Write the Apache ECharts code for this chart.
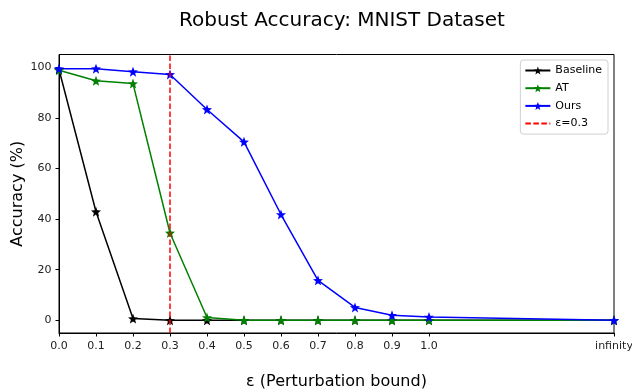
<!DOCTYPE html>
<html>
<head>
<meta charset="utf-8">
<script src="https://cdn.jsdelivr.net/npm/echarts@6/dist/echarts.min.js"></script>
<style>
  html, body { margin: 0; padding: 0; background: #fff; }
  #chart { width: 632px; height: 389px; }
</style>
</head>
<body>
<div id="chart"></div>
<script>
// perturbation bound; "infinity" is drawn at 1.5
const epsValues = [0.0, 0.1, 0.2, 0.3, 0.4, 0.5, 0.6, 0.7, 0.8, 0.9, 1.0, 1.5];
const baseline = [99.1, 42.9, 0.7, 0.0, 0.0, 0.0, 0.0, 0.0, 0.0, 0.0, 0.0, 0.0];
const at = [98.8, 94.6, 93.5, 34.5, 1.1, 0.0, 0.0, 0.0, 0.0, 0.0, 0.0, 0.0];
const ours = [99.4, 99.4, 98.2, 97.1, 83.3, 70.5, 41.8, 15.8, 5.1, 2.0, 1.3, 0.0];

const xTickValues = [0.0, 0.1, 0.2, 0.3, 0.4, 0.5, 0.6, 0.7, 0.8, 0.9, 1.0, 1.5];
const xTickLabels = ['0.0', '0.1', '0.2', '0.3', '0.4', '0.5', '0.6', '0.7', '0.8', '0.9', '1.0', 'infinity'];
const yTickValues = [0, 20, 40, 60, 80, 100];
const epsLine = 0.3;

const font = 'DejaVu Sans';
const star = 'path://M12,1 L14.9,8.6 L23,9 L16.7,14.1 L18.8,22 L12,17.5 L5.2,22 L7.3,14.1 L1,9 L9.1,8.6 Z';

function pairs(ys) {
    return epsValues.map((x, i) => [x, ys[i]]);
}

function lineSeries(name, ys, color) {
    return {
        name: name,
        type: 'line',
        data: pairs(ys),
        symbol: star,
        symbolSize: 10,
        showSymbol: true,
        lineStyle: { color: color, width: 1.5 },
        itemStyle: { color: color },
        emphasis: { disabled: true }
    };
}

const myChart = echarts.init(document.getElementById('chart'), null, { renderer: 'canvas' });

const option = {
    animation: false,
    textStyle: { fontFamily: font },
    title: {
        text: 'Robust Accuracy: MNIST Dataset',
        left: 337,
        textAlign: 'center',
        top: 6,
        textStyle: { fontFamily: font, fontSize: 20, fontWeight: 'normal', color: '#000' }
    },
    legend: {
        orient: 'vertical',
        right: 24,
        top: 60,
        padding: [5, 6, 5, 4],
        itemWidth: 25,
        itemHeight: 10,
        itemGap: 6.7,
        borderColor: '#d0d0d0',
        borderWidth: 1,
        borderRadius: 3,
        backgroundColor: '#fff',
        textStyle: { fontFamily: font, fontSize: 11, color: '#000' },
        data: ['Baseline', 'AT', 'Ours', { name: 'ε=0.3', itemStyle: { opacity: 0 } }]
    },
    grid: {
        left: 59,
        right: 18,
        top: 54.5,
        bottom: 56,
        show: true,
        borderColor: '#000',
        borderWidth: 1,
        containLabel: false,
        outerBoundsMode: 'none'
    },
    xAxis: {
        type: 'value',
        min: 0,
        max: 1.5,
        name: 'ε (Perturbation bound)',
        nameLocation: 'middle',
        nameGap: 41,
        nameMoveOverlap: false,
        nameTextStyle: { fontFamily: font, fontSize: 16, color: '#000' },
        axisLine: { show: true, onZero: false, lineStyle: { color: '#000', width: 1 } },
        axisTick: {
            show: true, length: 3.5, lineStyle: { color: '#000' },
            customValues: xTickValues
        },
        axisLabel: {
            customValues: xTickValues,
            margin: 7.5,
            fontFamily: font, fontSize: 11, color: '#222',
            formatter: v => {
                const i = xTickValues.findIndex(t => Math.abs(t - v) < 1e-6);
                return i >= 0 ? xTickLabels[i] : '';
            }
        },
        splitLine: { show: false }
    },
    yAxis: {
        type: 'value',
        min: -5,
        max: 105,
        name: 'Accuracy (%)',
        nameLocation: 'middle',
        nameGap: 33,
        nameMoveOverlap: false,
        nameTextStyle: { fontFamily: font, fontSize: 16, color: '#000' },
        axisLine: { show: true, onZero: false, lineStyle: { color: '#000', width: 1 } },
        axisTick: {
            show: true, length: 3.5, lineStyle: { color: '#000' },
            customValues: yTickValues
        },
        axisLabel: {
            customValues: yTickValues,
            margin: 7.5,
            fontFamily: font, fontSize: 11, color: '#222'
        },
        splitLine: { show: false }
    },
    series: [
        lineSeries('Baseline', baseline, '#000000'),
        lineSeries('AT', at, '#008000'),
        lineSeries('Ours', ours, '#0000ff'),
        {
            name: 'ε=0.3',
            type: 'line',
            data: [[epsLine, -5], [epsLine, 105]],
            symbol: 'none',
            lineStyle: { color: '#ff0000', width: 1.5, type: [5.5, 2.5] },
            itemStyle: { color: '#ff0000' },
            emphasis: { disabled: true },
            z: 5
        }
    ]
};

myChart.setOption(option);
</script>
</body>
</html>
